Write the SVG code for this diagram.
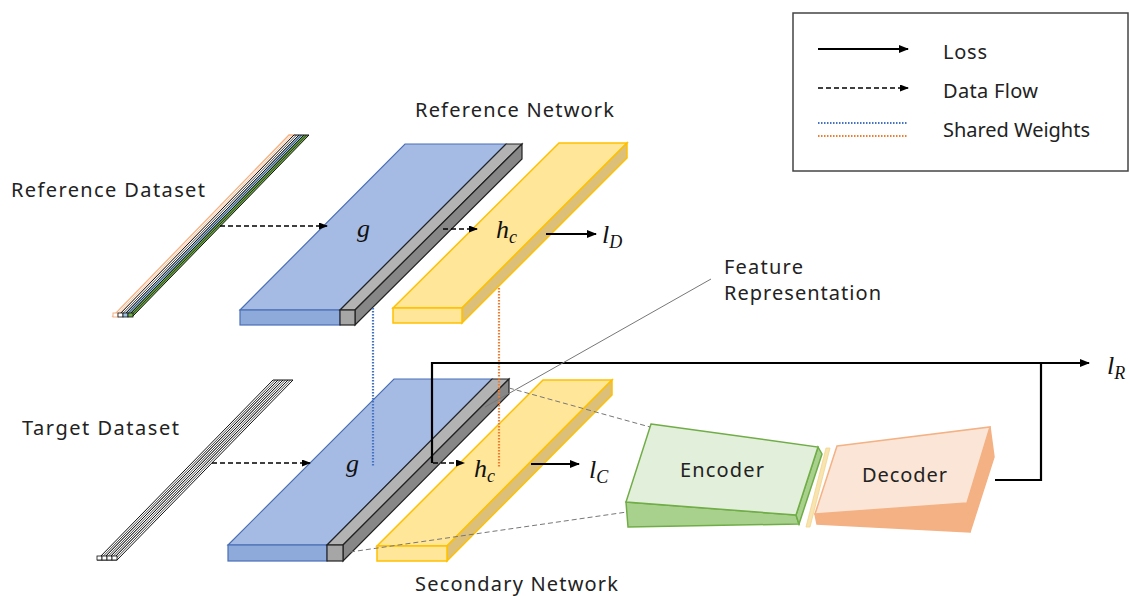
<svg xmlns="http://www.w3.org/2000/svg" width="1130" height="596" viewBox="0 0 1130 596">
<defs>
<style>
.lbl{font-family:"Noto Sans","Liberation Sans",sans-serif;font-size:20px;fill:#222}
.math{font-family:"Liberation Serif","DejaVu Serif",serif;font-style:italic;fill:#111}
.bt{fill:#a6bbe3;stroke:#4a6fb5;stroke-width:1.2}
.bf{fill:#8eaadb;stroke:#4a6fb5;stroke-width:1.2}
.gt{fill:#b3b3b3;stroke:#222;stroke-width:1.2}
.gr{fill:#878787;stroke:#222;stroke-width:1.2}
.gf{fill:#a6a6a6;stroke:#222;stroke-width:1.2}
.yt{fill:#ffe699;stroke:#ffc000;stroke-width:1.5}
.yr{fill:#dcc07a;stroke:#ffc000;stroke-width:1.5}
.loss{stroke:#000;stroke-width:2.2;fill:none}
.flow{stroke:#000;stroke-width:1.4;stroke-dasharray:5 3;fill:none}
.thin{stroke:#777;stroke-width:1;fill:none}
.thind{stroke:#777;stroke-width:1;stroke-dasharray:5 3;fill:none}
.bdot{stroke:#4472c4;stroke-width:2.2;stroke-dasharray:1.5 1.5;fill:none}
.odot{stroke:#ed7d31;stroke-width:2.2;stroke-dasharray:1.5 1.5;fill:none}
.mid{stroke:#111;stroke-width:0.8;fill:none}
</style>
<marker id="ah" markerWidth="10" markerHeight="8" refX="9" refY="4" orient="auto" markerUnits="userSpaceOnUse">
<path d="M0,0 L10,4 L0,8 Z" fill="#000"/>
</marker>
<marker id="ahs" markerWidth="9" markerHeight="7" refX="8" refY="3.5" orient="auto" markerUnits="userSpaceOnUse">
<path d="M0,0 L9,3.5 L0,7 Z" fill="#000"/>
</marker>
</defs>
<rect width="1130" height="596" fill="#fff"/>

<!-- Reference dataset -->
<g id="reference-dataset">
<polygon points="113,316 118,316 294,135 289,135" fill="#fff" stroke="#f4b183" stroke-width="1.3"/>
<line x1="115.5" y1="316" x2="291.5" y2="135" stroke="#f4b183" stroke-width="0.8"/>
<polygon points="118,316 123,316 299,135 294,135" fill="#fff" stroke="#111" stroke-width="1"/>
<line class="mid" x1="120.5" y1="316" x2="296.5" y2="135"/>
<polygon points="123,316 128,316 304,135 299,135" fill="#9dc3e6" stroke="#111" stroke-width="1"/>
<line class="mid" x1="125.5" y1="316" x2="301.5" y2="135"/>
<polygon points="128,316 133,316 309,135 304,135" fill="#70ad47" stroke="#111" stroke-width="1"/>
<line class="mid" x1="130.5" y1="316" x2="306.5" y2="135"/>
<rect x="113" y="313" width="5" height="4" fill="#fff" stroke="#f4b183" stroke-width="1"/>
<rect x="118" y="313" width="5" height="4" fill="#fff" stroke="#111" stroke-width="0.8"/>
<rect x="123" y="313" width="5" height="4" fill="#9dc3e6" stroke="#111" stroke-width="0.8"/>
<rect x="128" y="313" width="5" height="4" fill="#70ad47" stroke="#111" stroke-width="0.8"/>
<text class="lbl" x="11" y="197" textLength="194">Reference Dataset</text>
</g>

<!-- Target dataset -->
<g id="target-dataset">
<polygon points="97,560 102,560 278,380 273,380" fill="#fff" stroke="#111" stroke-width="1"/>
<line class="mid" x1="99.5" y1="560" x2="275.5" y2="380"/>
<polygon points="102,560 107,560 283,380 278,380" fill="#fff" stroke="#111" stroke-width="1"/>
<line class="mid" x1="104.5" y1="560" x2="280.5" y2="380"/>
<polygon points="107,560 112,560 288,380 283,380" fill="#fff" stroke="#111" stroke-width="1"/>
<line class="mid" x1="109.5" y1="560" x2="285.5" y2="380"/>
<polygon points="112,560 117,560 293,380 288,380" fill="#fff" stroke="#111" stroke-width="1"/>
<line class="mid" x1="114.5" y1="560" x2="290.5" y2="380"/>
<rect x="97" y="556" width="5" height="4" fill="#fff" stroke="#111" stroke-width="0.8"/>
<rect x="102" y="556" width="5" height="4" fill="#fff" stroke="#111" stroke-width="0.8"/>
<rect x="107" y="556" width="5" height="4" fill="#fff" stroke="#111" stroke-width="0.8"/>
<rect x="112" y="556" width="5" height="4" fill="#fff" stroke="#111" stroke-width="0.8"/>
<text class="lbl" x="22" y="435" textLength="157">Target Dataset</text>
</g>

<!-- Reference network -->
<g id="reference-network">
<polygon class="bt" points="240,310 405,144 506,144 340,310"/>
<rect class="bf" x="240" y="310" width="100" height="15"/>
<polygon class="gt" points="340,310 506,144 522,144 355,310"/>
<polygon class="gr" points="355,310 522,144 522,159 355,325"/>
<rect class="gf" x="340" y="310" width="15" height="15"/>
<polygon class="yt" points="393,308 559,143 627,143 462,308"/>
<polygon class="yr" points="462,308 627,143 627,158 462,323"/>
<rect class="yt" x="393" y="308" width="69" height="15"/>
<text class="lbl" x="415" y="117" textLength="199">Reference Network</text>
<text class="math" x="357" y="237" font-size="26">g</text>
<text class="math" x="496" y="238" font-size="26">h<tspan font-size="18" dy="5">c</tspan></text>
<text class="math" x="602" y="243" font-size="26">l<tspan font-size="18" dy="5">D</tspan></text>
</g>

<!-- Secondary network -->
<g id="secondary-network">
<polygon class="bt" points="228,545 394,379 492,379 327,545"/>
<rect class="bf" x="228" y="545" width="99" height="16"/>
<polygon class="gt" points="327,545 492,379 509,379 343,545"/>
<polygon class="gr" points="343,545 509,379 509,394 343,561"/>
<rect class="gf" x="327" y="545" width="16" height="16"/>
<polygon class="yt" points="377,546 543,380 612,380 447,546"/>
<polygon class="yr" points="447,546 612,380 612,395 447,561"/>
<rect class="yt" x="377" y="546" width="70" height="15"/>
<text class="lbl" x="415" y="591" textLength="203">Secondary Network</text>
<text class="math" x="346" y="472" font-size="26">g</text>
<text class="math" x="474" y="477" font-size="26">h<tspan font-size="18" dy="5">c</tspan></text>
<text class="math" x="589" y="478" font-size="26">l<tspan font-size="18" dy="5">C</tspan></text>
</g>

<!-- Encoder -->
<g id="encoder">
<polygon points="626,502 796,515 799,524 628,527" fill="#a9d18e" stroke="#70ad47" stroke-width="1.5"/>
<polygon points="818,447 822,454 799,524 796,515" fill="#a9d18e" stroke="#70ad47" stroke-width="1.5"/>
<polygon points="651,424 818,447 796,515 626,502" fill="#e2efda" stroke="#70ad47" stroke-width="1.5"/>
<text class="lbl" x="680" y="477" textLength="84">Encoder</text>
</g>

<!-- Latent -->
<g id="latent">
<polygon points="826,448 830,448 810,527 806,527" fill="#f8e4b0" stroke="#f4d48a" stroke-width="0.8"/>
</g>

<!-- Decoder -->
<g id="decoder">
<polygon points="815,514 967,503 970,532 817,524" fill="#f4b183" stroke="#f4b183" stroke-width="1.5"/>
<polygon points="990,427 994,457 970,532 967,503" fill="#f4b183" stroke="#f4b183" stroke-width="1.5"/>
<polygon points="837,446 990,427 967,503 815,514" fill="#fbe5d6" stroke="#f4b183" stroke-width="1.5"/>
<text class="lbl" x="862" y="482" textLength="85">Decoder</text>
</g>

<!-- Connectors -->
<g id="connectors">
<line class="flow" x1="220" y1="226" x2="327" y2="226" marker-end="url(#ahs)"/>
<line class="flow" x1="443" y1="229" x2="477" y2="229" marker-end="url(#ahs)"/>
<line class="loss" x1="546" y1="234" x2="596" y2="234" marker-end="url(#ah)"/>
<line class="flow" x1="212" y1="463" x2="310" y2="463" marker-end="url(#ahs)"/>
<line class="flow" x1="433" y1="463" x2="464" y2="463" marker-end="url(#ahs)"/>
<line class="loss" x1="531" y1="464" x2="579" y2="464" marker-end="url(#ah)"/>
<line class="bdot" x1="373" y1="308" x2="373" y2="467"/>
<line class="odot" x1="499" y1="288" x2="499" y2="467"/>
<polyline class="loss" points="432,463 432,363 1089,363" marker-end="url(#ah)"/>
<polyline class="loss" points="995,480 1041,480 1041,363"/>
<line class="thind" x1="509" y1="388" x2="650" y2="427"/>
<line class="thind" x1="350" y1="552" x2="627" y2="512"/>
<line class="thin" x1="711" y1="279" x2="485" y2="407"/>
<text class="math" x="1107" y="374" font-size="26">l<tspan font-size="18" dy="5">R</tspan></text>
<text class="lbl" x="724" y="274" textLength="79">Feature</text>
<text class="lbl" x="724" y="300" textLength="157">Representation</text>
</g>

<!-- Legend -->
<g id="legend">
<rect x="793" y="13" width="335" height="158" fill="#fff" stroke="#444" stroke-width="1.5"/>
<line class="loss" x1="818" y1="49" x2="908" y2="49" marker-end="url(#ah)"/>
<line class="flow" x1="818" y1="88" x2="908" y2="88" marker-end="url(#ahs)"/>
<line class="bdot" x1="818" y1="123" x2="908" y2="123" stroke-width="1.5"/>
<line class="odot" x1="818" y1="136" x2="908" y2="136" stroke-width="1.5"/>
<text class="lbl" x="943" y="59" textLength="44">Loss</text>
<text class="lbl" x="943" y="98" textLength="95">Data Flow</text>
<text class="lbl" x="943" y="137" textLength="147">Shared Weights</text>
</g>
</svg>
